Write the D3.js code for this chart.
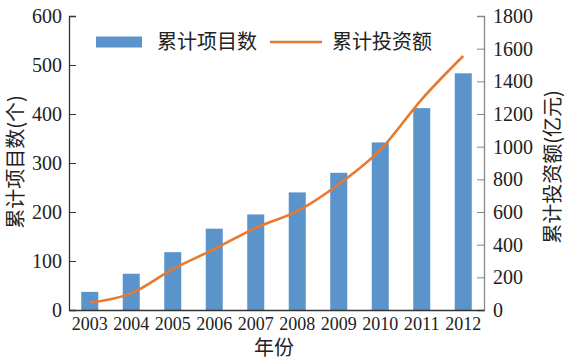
<!DOCTYPE html>
<html>
<head>
<meta charset="utf-8">
<script src="https://cdn.jsdelivr.net/npm/d3@7"></script>
<style>
  body { margin: 0; background: #fff; }
  .num { font-family: "Liberation Serif", "DejaVu Serif", serif; fill: #222; }
  .cjk { font-family: "Noto Sans CJK SC", sans-serif; fill: #222; }
</style>
</head>
<body>
<svg id="chart" width="577" height="362"></svg>
<script>
const years = ["2003", "2004", "2005", "2006", "2007", "2008", "2009", "2010", "2011", "2012"];
const projects = [37, 74, 118, 166, 195, 240, 280, 342, 412, 483];
const investment = [45, 102, 250, 373, 503, 605, 770, 980, 1290, 1555];
const leftTicks = [0, 100, 200, 300, 400, 500, 600];
const rightTicks = [0, 200, 400, 600, 800, 1000, 1200, 1400, 1600, 1800];

const margin = { top: 16, right: 93, bottom: 52, left: 69 };
const width = 577 - margin.left - margin.right;
const height = 362 - margin.top - margin.bottom;

const svg = d3.select("#chart")
  .append("g")
  .attr("transform", "translate(" + margin.left + "," + margin.top + ")");

const x = d3.scaleBand().domain(years).range([0, width]).paddingInner(0.59).paddingOuter(0.295);
const y = d3.scaleLinear().domain([0, 600]).range([height, 0]);
const y2 = d3.scaleLinear().domain([0, 1800]).range([height, 0]);

// bars
svg.selectAll(".bar")
  .data(projects)
  .enter()
  .append("rect")
  .attr("class", "bar")
  .attr("x", (d, i) => x(years[i]))
  .attr("y", d => y(d))
  .attr("width", x.bandwidth())
  .attr("height", d => height - y(d))
  .attr("fill", "#5b93cb");

// line
const line = d3.line()
  .x((d, i) => x(years[i]) + x.bandwidth() / 2)
  .y(d => y2(d))
  .curve(d3.curveMonotoneX);

svg.append("path")
  .datum(investment)
  .attr("d", line)
  .attr("fill", "none")
  .attr("stroke", "#e8792d")
  .attr("stroke-width", 2.6);

// left axis
const gLeft = svg.append("g")
  .call(d3.axisRight(y).tickValues(leftTicks).tickSize(7).tickFormat(d3.format("d")));
gLeft.select(".domain").attr("stroke", "#333").attr("stroke-width", 1.3);
gLeft.selectAll(".tick line").attr("stroke", "#333");
gLeft.selectAll(".tick text")
  .attr("class", "num")
  .attr("x", -7)
  .attr("text-anchor", "end")
  .style("font-size", "20px");

// right axis
const gRight = svg.append("g")
  .attr("transform", "translate(" + width + ",0)")
  .call(d3.axisLeft(y2).tickValues(rightTicks).tickSize(7).tickFormat(d3.format("d")));
gRight.select(".domain").attr("stroke", "#888").attr("stroke-width", 1.3);
gRight.selectAll(".tick line").attr("stroke", "#888");
gRight.selectAll(".tick text")
  .attr("class", "num")
  .attr("x", 9)
  .attr("text-anchor", "start")
  .style("font-size", "20px");

// bottom axis
const gBottom = svg.append("g")
  .attr("transform", "translate(0," + height + ")")
  .call(d3.axisBottom(x).tickSize(0));
gBottom.select(".domain").attr("stroke", "#333").attr("stroke-width", 1.5);
gBottom.selectAll(".tick text")
  .attr("class", "num")
  .attr("y", 7)
  .attr("textLength", 36)
  .attr("lengthAdjust", "spacingAndGlyphs")
  .style("font-size", "19px");

// axis titles
svg.append("text")
  .attr("class", "cjk")
  .attr("transform", "translate(-53," + (height / 2 - 1) + ") rotate(-90)")
  .attr("text-anchor", "middle")
  .attr("dy", "0.35em")
  .style("font-size", "20px")
  .text("累计项目数(个)");

svg.append("text")
  .attr("class", "cjk")
  .attr("transform", "translate(" + (width + 69) + "," + (height / 2 + 4) + ") rotate(-90)")
  .attr("text-anchor", "middle")
  .attr("dy", "0.35em")
  .style("font-size", "20px")
  .text("累计投资额(亿元)");

svg.append("text")
  .attr("class", "cjk")
  .attr("x", 274 - margin.left)
  .attr("y", height + 45)
  .attr("text-anchor", "middle")
  .style("font-size", "20px")
  .text("年份");

// legend
const legend = svg.append("g").attr("transform", "translate(" + (96 - margin.left) + "," + (42 - margin.top) + ")");
legend.append("rect")
  .attr("x", 0).attr("y", -5.5).attr("width", 46).attr("height", 11)
  .attr("fill", "#5b93cb");
legend.append("text")
  .attr("class", "cjk")
  .attr("x", 61).attr("dy", "0.35em")
  .style("font-size", "20px")
  .text("累计项目数");
legend.append("line")
  .attr("x1", 174).attr("x2", 226).attr("y1", 0).attr("y2", 0)
  .attr("stroke", "#e8792d").attr("stroke-width", 2.6);
legend.append("text")
  .attr("class", "cjk")
  .attr("x", 236).attr("dy", "0.35em")
  .style("font-size", "20px")
  .text("累计投资额");
</script>
</body>
</html>
